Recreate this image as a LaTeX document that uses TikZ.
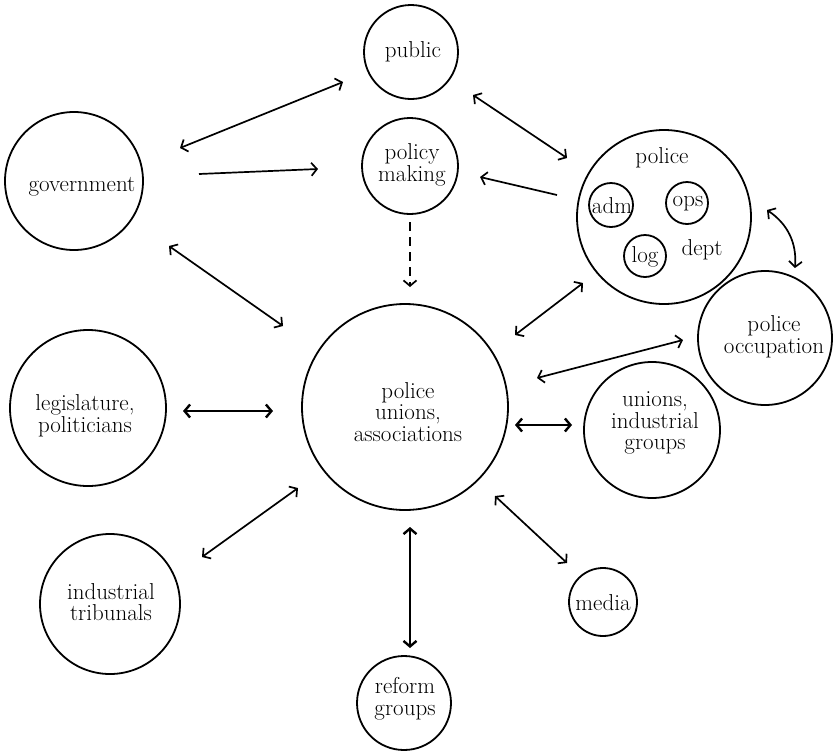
\documentclass[tikz,border=0pt]{standalone}
\usetikzlibrary{arrows.meta,calc}
\begin{document}
\begin{tikzpicture}[x=1pt,y=-1pt,
  circ/.style={circle,draw,line width=1.8pt,inner sep=0pt,minimum size=#1},
  lbl/.style={align=center,font=\fontsize{23}{21.5}\selectfont,inner sep=0pt},
  tip/.tip={Straight Barb[length=5.5pt,width=13pt]},
  conn/.style={line width=1.7pt,tip-tip},
  thickconn/.style={line width=2.4pt,tip-tip},
  oneway/.style={line width=1.7pt,-tip},
]
\useasboundingbox (0,0) rectangle (838,753);

% circles
\node[circ=94pt]  (pub)  at (411,52)  {};
\node[circ=96pt]  (pol)  at (410,166) {};
\node[circ=138pt] (gov)  at (74,181)  {};
\node[circ=174pt] (dept) at (664,217) {};
\node[circ=44pt]  (adm)  at (611,205) {};
\node[circ=42pt]  (ops)  at (687,203) {};
\node[circ=42pt]  (log)  at (645,256) {};
\node[circ=134pt] (occ)  at (765,338) {};
\node[circ=206pt] (uni)  at (405,407) {};
\node[circ=156pt] (leg)  at (88,408)  {};
\node[circ=136pt] (uig)  at (652,430) {};
\node[circ=140pt] (tri)  at (110,604) {};
\node[circ=68pt]  (med)  at (603,602) {};
\node[circ=94pt]  (ref)  at (404,703) {};

% labels
\node[lbl] (pubt)  at (413,52)  {public};
\node[lbl] (polt)  at (412,165) {policy\\making};
\node[lbl] (govt)  at (82,187)  {government};
\node[lbl] (deptt) at (662,158) {police};
\node[lbl] (deptd) at (702,250) {dept};
\node[lbl] (admt)  at (612,206) {adm};
\node[lbl] (opst)  at (688,204) {ops};
\node[lbl] (logt)  at (645,257) {log};
\node[lbl] (occt)  at (774,337) {police\\occupation};
\node[lbl] (unit)  at (408,412) {police\\unions,\\associations};
\node[lbl] (legt)  at (85,416)  {legislature,\\politicians};
\node[lbl] (uigt)  at (655,423) {unions,\\industrial\\groups};
\node[lbl] (trit)  at (111,602) {industrial\\tribunals};
\node[lbl] (medt)  at (603,603) {media};
\node[lbl] (reft)  at (405,699) {reform\\groups};

% connectors
\draw[conn]   ($(gov)+(106,-33)$) -- ($(pub)+(-68,30)$);
\draw[oneway] ($(gov)+(125,-7)$)  -- ($(pol)+(-92,3)$);
\draw[conn]   ($(gov)+(95,65)$)   -- ($(uni)+(-122,-81)$);
\draw[conn]   ($(pub)+(62,43)$)   -- ($(dept)+(-97,-59)$);
\draw[oneway] ($(dept)+(-107,-22)$) -- ($(pol)+(70,11)$);
\draw[oneway,dash pattern=on 9pt off 6pt] ($(pol)+(0,56)$) -- ($(uni)+(5,-120)$);
\draw[conn]   ($(uni)+(110,-72)$) -- ($(dept)+(-81,66)$);
\draw[conn]   ($(uni)+(132,-29)$) -- ($(occ)+(-82,2)$);
\draw[thickconn] ($(uni)+(110,18)$) -- ($(uig)+(-80,-5)$);
\draw[conn]   ($(dept)+(103,-7)$) to[bend left=30] ($(occ)+(30,-70)$);
\draw[thickconn] ($(uni)+(-132,4)$) -- ($(leg)+(95,3)$);
\draw[conn]   ($(uni)+(-107,81)$) -- ($(tri)+(92,-47)$);
\draw[thickconn] ($(uni)+(5,120)$) -- ($(ref)+(6,-55)$);
\draw[conn]   ($(uni)+(90,89)$)   -- ($(med)+(-36,-39)$);
\end{tikzpicture}
\end{document}
